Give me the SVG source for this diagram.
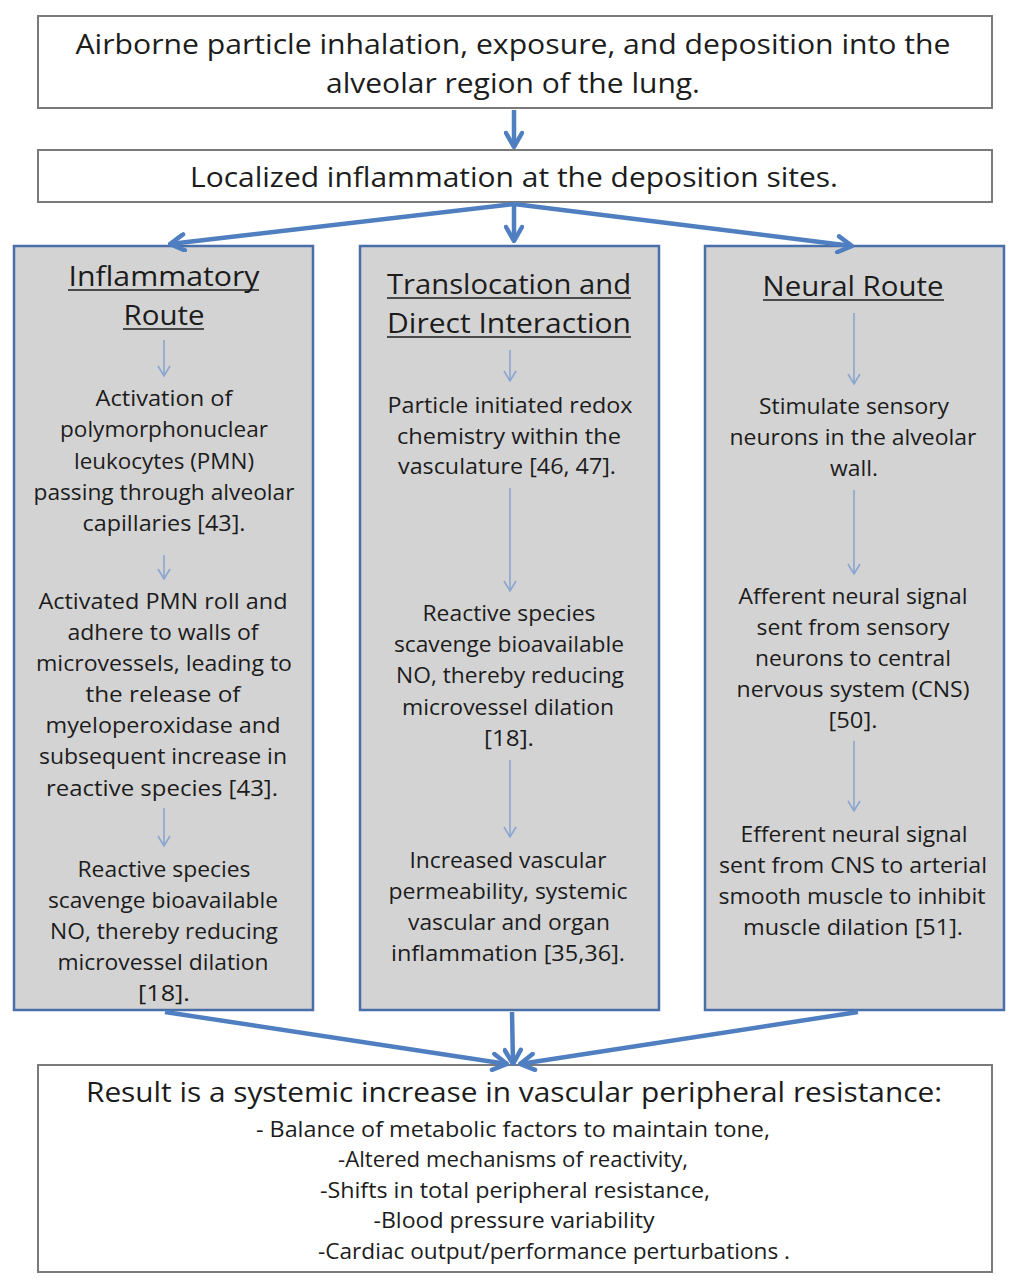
<svg xmlns="http://www.w3.org/2000/svg" width="1024" height="1287" viewBox="0 0 1024 1287">
<style>
text{font-family:"Open Sans","Liberation Sans",sans-serif;fill:#1c1c1c;text-anchor:middle}
.big{font-size:27px}
.med{font-size:21px}
.wbox{fill:#fff;stroke:#7a7a7a;stroke-width:2}
.col{fill:#d3d3d3;stroke:#4a6ea8;stroke-width:2.5}
.thick{stroke:#4f7fc0;stroke-width:4.5;fill:none;marker-end:url(#hb)}
.thin{stroke:#8aa6d0;stroke-width:1.6;fill:none;marker-end:url(#hs)}
.ul{stroke:#1c1c1c;stroke-width:1.6}
</style>
<defs>
<marker id="hb" viewBox="0 0 20 20" refX="18" refY="10" markerWidth="20" markerHeight="20" markerUnits="userSpaceOnUse" orient="auto"><path d="M4,2 L18,10 L4,18" fill="none" stroke="#4f7fc0" stroke-width="4.5" stroke-linecap="round" stroke-linejoin="round"/></marker>
<marker id="hs" viewBox="0 0 14 14" refX="12" refY="7" markerWidth="14" markerHeight="14" markerUnits="userSpaceOnUse" orient="auto"><path d="M2,1 L12,7 L2,13" fill="none" stroke="#8aa6d0" stroke-width="1.6"/></marker>
</defs>
<rect width="1024" height="1287" fill="#fff"/>
<g id="n1">
<rect class="wbox" x="38" y="16" width="954" height="92"/>
<text class="big" x="513" y="54" textLength="875" lengthAdjust="spacingAndGlyphs">Airborne particle inhalation, exposure, and deposition into the</text>
<text class="big" x="513" y="93" textLength="374" lengthAdjust="spacingAndGlyphs">alveolar region of the lung.</text>
</g>
<g id="n2">
<rect class="wbox" x="38" y="150" width="954" height="52"/>
<text class="big" x="514" y="187" textLength="648" lengthAdjust="spacingAndGlyphs">Localized inflammation at the deposition sites.</text>
</g>
<g id="n3">
<rect class="col" x="14" y="246" width="299" height="764"/>
<text class="big" x="164" y="286" textLength="191" lengthAdjust="spacingAndGlyphs">Inflammatory</text>
<line class="ul" x1="68" y1="290" x2="259" y2="290"/>
<text class="big" x="164" y="325" textLength="81" lengthAdjust="spacingAndGlyphs">Route</text>
<line class="ul" x1="123" y1="329" x2="204" y2="329"/>
<text class="med" x="164" y="406" textLength="137" lengthAdjust="spacingAndGlyphs">Activation of</text>
<text class="med" x="164" y="437" textLength="208" lengthAdjust="spacingAndGlyphs">polymorphonuclear</text>
<text class="med" x="164" y="469" textLength="180" lengthAdjust="spacingAndGlyphs">leukocytes (PMN)</text>
<text class="med" x="164" y="500" textLength="261" lengthAdjust="spacingAndGlyphs">passing through alveolar</text>
<text class="med" x="164" y="531" textLength="163" lengthAdjust="spacingAndGlyphs">capillaries [43].</text>
<text class="med" x="163" y="609" textLength="249" lengthAdjust="spacingAndGlyphs">Activated PMN roll and</text>
<text class="med" x="163" y="640" textLength="191" lengthAdjust="spacingAndGlyphs">adhere to walls of</text>
<text class="med" x="164" y="671" textLength="256" lengthAdjust="spacingAndGlyphs">microvessels, leading to</text>
<text class="med" x="163" y="702" textLength="155" lengthAdjust="spacingAndGlyphs">the  release of</text>
<text class="med" x="163" y="733" textLength="235" lengthAdjust="spacingAndGlyphs">myeloperoxidase  and</text>
<text class="med" x="163" y="764" textLength="248" lengthAdjust="spacingAndGlyphs">subsequent increase in</text>
<text class="med" x="162" y="796" textLength="232" lengthAdjust="spacingAndGlyphs">reactive  species [43].</text>
<text class="med" x="164" y="877" textLength="173" lengthAdjust="spacingAndGlyphs">Reactive species</text>
<text class="med" x="163" y="908" textLength="230" lengthAdjust="spacingAndGlyphs">scavenge bioavailable</text>
<text class="med" x="164" y="939" textLength="228" lengthAdjust="spacingAndGlyphs">NO, thereby reducing</text>
<text class="med" x="163" y="970" textLength="211" lengthAdjust="spacingAndGlyphs">microvessel dilation</text>
<text class="med" x="164" y="1001" textLength="52" lengthAdjust="spacingAndGlyphs">[18].</text>
</g>
<g id="n4">
<rect class="col" x="360" y="246" width="299" height="764"/>
<text class="big" x="509" y="294" textLength="244" lengthAdjust="spacingAndGlyphs">Translocation and</text>
<line class="ul" x1="387" y1="298" x2="631" y2="298"/>
<text class="big" x="509" y="333" textLength="244" lengthAdjust="spacingAndGlyphs">Direct Interaction</text>
<line class="ul" x1="387" y1="337" x2="631" y2="337"/>
<text class="med" x="510" y="413" textLength="245" lengthAdjust="spacingAndGlyphs">Particle initiated redox</text>
<text class="med" x="509" y="444" textLength="224" lengthAdjust="spacingAndGlyphs">chemistry within the</text>
<text class="med" x="507" y="474" textLength="218" lengthAdjust="spacingAndGlyphs">vasculature [46, 47].</text>
<text class="med" x="509" y="621" textLength="173" lengthAdjust="spacingAndGlyphs">Reactive species</text>
<text class="med" x="509" y="652" textLength="230" lengthAdjust="spacingAndGlyphs">scavenge bioavailable</text>
<text class="med" x="510" y="683" textLength="228" lengthAdjust="spacingAndGlyphs">NO, thereby reducing</text>
<text class="med" x="508" y="715" textLength="212" lengthAdjust="spacingAndGlyphs">microvessel dilation</text>
<text class="med" x="509" y="746" textLength="50" lengthAdjust="spacingAndGlyphs">[18].</text>
<text class="med" x="508" y="868" textLength="197" lengthAdjust="spacingAndGlyphs">Increased vascular</text>
<text class="med" x="508" y="899" textLength="239" lengthAdjust="spacingAndGlyphs">permeability,  systemic</text>
<text class="med" x="509" y="930" textLength="202" lengthAdjust="spacingAndGlyphs">vascular and organ</text>
<text class="med" x="508" y="961" textLength="234" lengthAdjust="spacingAndGlyphs">inflammation [35,36].</text>
</g>
<g id="n5">
<rect class="col" x="705" y="246" width="299" height="764"/>
<text class="big" x="853" y="296" textLength="181" lengthAdjust="spacingAndGlyphs">Neural Route</text>
<line class="ul" x1="763" y1="300" x2="944" y2="300"/>
<text class="med" x="854" y="414" textLength="190" lengthAdjust="spacingAndGlyphs">Stimulate sensory</text>
<text class="med" x="853" y="445" textLength="247" lengthAdjust="spacingAndGlyphs">neurons in the alveolar</text>
<text class="med" x="854" y="476" textLength="48" lengthAdjust="spacingAndGlyphs">wall.</text>
<text class="med" x="853" y="604" textLength="229" lengthAdjust="spacingAndGlyphs">Afferent neural signal</text>
<text class="med" x="853" y="635" textLength="193" lengthAdjust="spacingAndGlyphs">sent from sensory</text>
<text class="med" x="853" y="666" textLength="196" lengthAdjust="spacingAndGlyphs">neurons to central</text>
<text class="med" x="853" y="697" textLength="233" lengthAdjust="spacingAndGlyphs">nervous system (CNS)</text>
<text class="med" x="853" y="728" textLength="49" lengthAdjust="spacingAndGlyphs">[50].</text>
<text class="med" x="854" y="842" textLength="227" lengthAdjust="spacingAndGlyphs">Efferent neural signal</text>
<text class="med" x="853" y="873" textLength="268" lengthAdjust="spacingAndGlyphs">sent from CNS to arterial</text>
<text class="med" x="852" y="904" textLength="267" lengthAdjust="spacingAndGlyphs">smooth muscle to inhibit</text>
<text class="med" x="853" y="935" textLength="220" lengthAdjust="spacingAndGlyphs">muscle dilation [51].</text>
</g>
<g id="n6">
<rect class="wbox" x="38" y="1065" width="954" height="207"/>
<text x="514" y="1102" font-size="28" textLength="856" lengthAdjust="spacingAndGlyphs">Result is a systemic increase in vascular peripheral resistance:</text>
<text class="med" x="513" y="1137" textLength="514" lengthAdjust="spacingAndGlyphs">- Balance of metabolic factors to maintain tone,</text>
<text class="med" x="513" y="1167" textLength="350" lengthAdjust="spacingAndGlyphs">-Altered mechanisms of reactivity,</text>
<text class="med" x="515" y="1198" textLength="390" lengthAdjust="spacingAndGlyphs">-Shifts in total peripheral  resistance,</text>
<text class="med" x="514" y="1228" textLength="281" lengthAdjust="spacingAndGlyphs">-Blood pressure variability</text>
<text class="med" x="554" y="1259" textLength="472" lengthAdjust="spacingAndGlyphs">-Cardiac output/performance  perturbations  .</text>
</g>
<g id="connectors">
<line class="thick" x1="514" y1="110" x2="514" y2="147"/>
<line class="thick" x1="514" y1="204" x2="170" y2="244"/>
<line class="thick" x1="514" y1="204" x2="514" y2="241"/>
<line class="thick" x1="514" y1="204" x2="852" y2="246"/>
<line class="thick" x1="165" y1="1012" x2="507" y2="1064"/>
<line class="thick" x1="512" y1="1012" x2="513" y2="1064"/>
<line class="thick" x1="858" y1="1012" x2="520" y2="1064"/>
<line class="thin" x1="164" y1="340" x2="164" y2="376"/>
<line class="thin" x1="164" y1="555" x2="164" y2="579"/>
<line class="thin" x1="164" y1="808" x2="164" y2="846"/>
<line class="thin" x1="510" y1="350" x2="510" y2="381"/>
<line class="thin" x1="510" y1="488" x2="510" y2="591"/>
<line class="thin" x1="510" y1="760" x2="510" y2="837"/>
<line class="thin" x1="854" y1="313" x2="854" y2="384"/>
<line class="thin" x1="854" y1="490" x2="854" y2="574"/>
<line class="thin" x1="854" y1="741" x2="854" y2="811"/>
</g>
</svg>
